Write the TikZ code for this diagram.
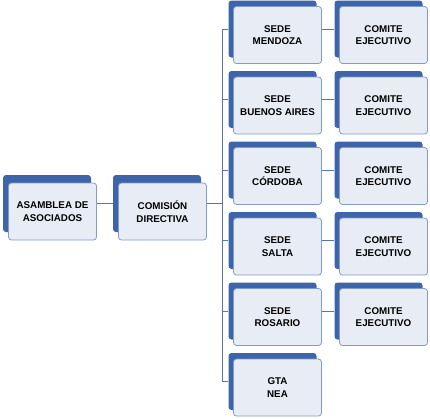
\documentclass[tikz,border=0pt]{standalone}
\usepackage{fontspec}
\setmainfont{Liberation Sans}
\usepackage{tikz}
\usepackage{xcolor}
\usetikzlibrary{calc, positioning}

\definecolor{fondoazul}{RGB}{62,100,170}
\definecolor{cajaazul}{RGB}{231,236,245}
\definecolor{bordeazul}{RGB}{130,155,200}
\definecolor{lineaazul}{RGB}{85,118,175}

\tikzset{
    fondo/.style={fill=fondoazul, rounded corners=3pt, minimum width=88pt, minimum height=57pt, inner sep=0pt},
    caja/.style={fill=cajaazul, draw=bordeazul, line width=0.8pt, rounded corners=3pt,
        minimum width=88pt, minimum height=57pt, inner sep=1pt, align=center,
        font=\fontsize{9.8}{12.7}\selectfont\bfseries},
    linea/.style={draw=lineaazul, line width=0.9pt}
}

\begin{document}
\begin{tikzpicture}[x=1pt, y=-1pt]
    \useasboundingbox (0, 0) rectangle (430, 418);

    % fondos
    \node[fondo] (asamb) at (47, 203.5) {};
    \node[fondo] (comb) at (157, 203.5) {};
    \foreach \i in {0,...,5} {
        \node[fondo] (sb\i) at (272.5, 29 + 70.5*\i) {};
    }
    \foreach \i in {0,...,4} {
        \node[fondo] (cb\i) at (378.5, 29 + 70.5*\i) {};
    }

    % lineas
    \coordinate (bus) at (222, 203.5);
    \coordinate (bustop) at (222, 29);
    \coordinate (busbot) at (222, 381.5);
    \draw[linea]
    (asamb.east) -- (comb.west)
    (comb.east) -- (bus)
    (bustop) -- (busbot);
    \foreach \i in {0,...,5} {
        \draw[linea] (sb\i.west -| bus) -- (sb\i.west);
    }
    \foreach \i in {0,...,4} {
        \draw[linea] (sb\i.east) -- (cb\i.west);
    }

    % cajas
    \node[caja] (asam) at (52.5, 211.5) {ASAMBLEA DE\\ASOCIADOS};
    \node[caja] (com) at (162.5, 211.5) {COMISIÓN\\DIRECTIVA};
    \foreach \i/\txt in {0/{SEDE\\MENDOZA}, 1/{SEDE\\BUENOS AIRES}, 2/{SEDE\\CÓRDOBA},
        3/{SEDE\\SALTA}, 4/{SEDE\\ROSARIO}, 5/{GTA\\NEA}} {
        \node[caja] (s\i) at (277.5, 35 + 70.5*\i) {\txt};
    }
    \foreach \i in {0,...,4} {
        \node[caja] (c\i) at (383.5, 35 + 70.5*\i) {COMITE\\EJECUTIVO};
    }
\end{tikzpicture}
\end{document}
